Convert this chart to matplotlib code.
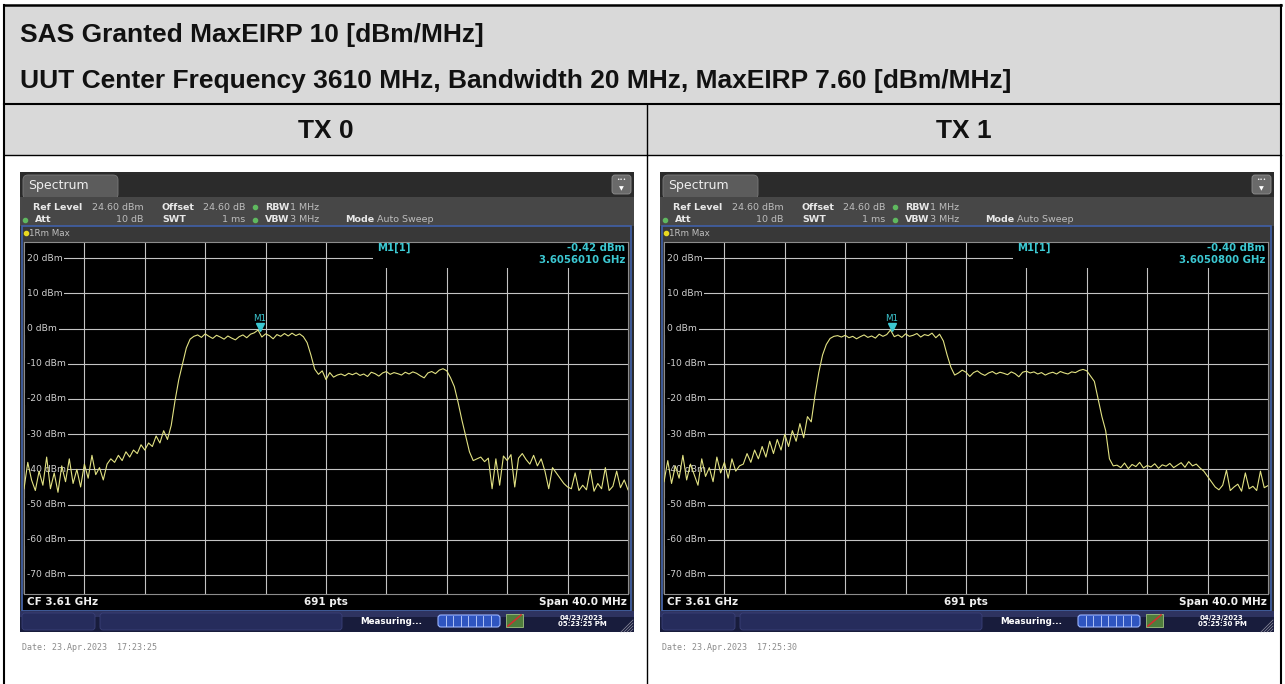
import numpy as np
import matplotlib.pyplot as plt
from matplotlib.patches import Rectangle, FancyBboxPatch
from matplotlib.transforms import blended_transform_factory, offset_copy

W, H = 1285, 684

title_line1 = "SAS Granted MaxEIRP 10 [dBm/MHz]"
title_line2 = "UUT Center Frequency 3610 MHz, Bandwidth 20 MHz, MaxEIRP 7.60 [dBm/MHz]"
tx_names = ["TX 0", "TX 1"]

# analyzer settings (CF 3.61 GHz, span 40 MHz, ref level 24.6 dBm, 10 dB/div)
f_start, f_stop = 3590.0, 3630.0
ref_level = 24.6
level_ticks = [20, 10, 0, -10, -20, -30, -40, -50, -60, -70]
freq_ticks = [3594, 3598, 3602, 3606, 3610, 3614, 3618, 3622, 3626]

# traces, 0.25 MHz steps from 3590 to 3630 MHz
tx0_dbm = [
    -45.5, -38.0, -43.0, -46.0, -40.5, -44.5, -36.5, -45.5, -41.0, -46.5, -39.0,
    -43.5, -37.0, -44.0, -40.0, -45.0, -38.5, -42.5, -36.0, -41.5, -39.5, -43.0,
    -38.5, -37.0, -38.0, -36.0, -37.5, -35.0, -36.5, -34.5, -35.5, -33.0, -34.5,
    -32.5, -33.5, -30.5, -32.5, -29.0, -31.5,
    -27.5, -20.5, -14.5, -10.0, -5.5, -3.0, -2.2,
    -1.8, -2.5, -1.5, -2.2, -2.8, -1.9, -2.4, -3.0, -2.1, -2.7, -3.2, -2.3, -1.8,
    -2.6, -1.6, -1.2, -0.4, -2.4, -1.5, -2.0, -2.9, -1.7, -2.2, -1.4, -2.1, -1.3,
    -2.0, -1.5, -2.3,
    -4.0, -7.5, -11.5, -13.0,
    -12.0, -14.5, -12.5, -13.8, -13.2, -12.9, -13.4, -12.7, -13.1, -12.6, -13.3,
    -12.9, -13.6, -12.4, -12.8, -13.5, -12.6, -12.2, -13.0, -12.5, -12.8, -13.2,
    -12.4, -12.9, -12.3, -12.7, -13.4, -14.0, -12.6, -12.2, -12.8, -11.8, -11.4,
    -12.0, -14.0, -16.5, -21.0, -26.0, -30.5, -35.0, -37.5,
    -37.0, -36.5, -37.8, -36.8, -45.5, -37.0, -44.5, -36.2, -37.5, -35.8, -45.0,
    -36.8, -35.5, -37.2, -38.5, -36.0, -39.0, -37.0, -40.5, -45.5, -39.5,
    -41.0, -42.5, -44.0, -45.0,
    -45.5, -41.0, -46.0, -44.5, -45.8, -40.0, -46.2, -44.0, -45.5, -39.5, -46.0,
    -44.8, -40.5, -45.2, -43.0, -45.8,
]
tx1_dbm = [
    -43.5, -37.5, -44.0, -39.0, -42.5, -36.0, -43.0, -38.5, -41.5, -44.5, -37.0,
    -42.0, -39.5, -43.5, -36.5, -41.0, -38.0, -42.5, -37.0, -40.5, -39.0,
    -38.5, -35.5, -38.0, -34.5, -37.0, -33.5, -36.5, -32.0, -35.5, -31.5, -34.5,
    -30.0, -33.5, -29.0, -32.0, -27.0, -31.0, -25.0,
    -26.5, -19.0, -12.5, -7.5, -4.5, -2.8, -2.2,
    -2.0, -2.4, -1.9, -2.6, -2.2, -2.9, -2.3, -1.8, -2.5, -2.1, -2.7, -1.6, -2.2,
    -1.7, -0.4, -2.3, -1.8, -2.5, -1.5, -2.2, -1.9, -1.4, -2.4, -1.7, -2.0, -1.3,
    -2.6, -1.6,
    -3.5, -7.5, -11.0, -13.2,
    -12.6, -11.8, -12.4, -13.6, -12.5, -12.0, -12.8, -13.3, -12.6, -12.2, -12.9,
    -12.4, -12.7, -13.1, -12.3, -12.8, -13.7, -12.4, -12.1, -12.6, -12.3, -12.9,
    -12.5, -13.2, -12.7, -12.4, -12.9, -12.2, -12.6, -12.9, -12.3, -12.5, -11.9,
    -11.6,
    -12.0, -13.5, -15.0, -20.0, -25.0, -29.0, -37.0, -39.0,
    -38.8, -39.5, -38.2, -39.8, -38.6, -39.2, -38.0, -39.6, -38.9, -39.3, -38.4,
    -39.7, -38.7, -39.1, -38.3, -39.5, -38.8, -38.1, -39.4, -37.8, -39.0, -38.5,
    -39.6,
    -40.5, -42.0, -43.5, -45.0,
    -45.8, -44.5, -40.2, -46.0, -45.0, -44.2, -46.2, -41.0, -45.5, -44.8, -46.0,
    -40.5, -45.2, -44.6,
]

m1_freq = [3605.601, 3605.080]
m1_level = [-0.42, -0.40]
m1_readout = [("-0.42 dBm", "3.6056010 GHz"), ("-0.40 dBm", "3.6050800 GHz")]
screen_stamp = ["04/23/2023\n05:23:25 PM", "04/23/2023\n05:25:30 PM"]
date_lines = ["Date: 23.Apr.2023  17:23:25", "Date: 23.Apr.2023  17:25:30"]

fig = plt.figure(figsize=(W / 100, H / 100), dpi=100)
fig.patch.set_facecolor('white')
bg = fig.add_axes([0, 0, 1, 1])
bg.set_xlim(0, W)
bg.set_ylim(H, 0)
bg.axis('off')


def px_axes(x0, y0, x1, y1):
    return fig.add_axes([x0 / W, 1 - y1 / H, (x1 - x0) / W, (y1 - y0) / H])


# table frame
bg.add_patch(Rectangle((4, 5), 1277, 150, facecolor='#d9d9d9', edgecolor='none'))
bg.plot([4, 1281], [5, 5], color='black', lw=1.8)
bg.plot([4, 4], [5, H], color='black', lw=1.5)
bg.plot([1281, 1281], [5, H], color='black', lw=1.5)
bg.plot([4, 1281], [104, 104], color='black', lw=1.5)
bg.plot([4, 1281], [155, 155], color='black', lw=1.0)
bg.plot([647, 647], [104, H], color='black', lw=1.0)

tfont = dict(family='Liberation Sans', fontweight='bold', color='#111111', va='center')
bg.text(20, 35, title_line1, fontsize=19, **tfont)
bg.text(20, 81, title_line2, fontsize=19, **tfont)
bg.text(325.5, 131, tx_names[0], fontsize=19, ha='center', **tfont)
bg.text(964, 131, tx_names[1], fontsize=19, ha='center', **tfont)

sfont = dict(family='DejaVu Sans', va='center')


def draw_panel(dx, levels, mfreq, mlevel, readout, stamp, date):
    x0 = 20 + dx
    # screenshot chrome
    bg.add_patch(Rectangle((x0, 172), 614, 460, facecolor='#2b2b2b', edgecolor='none'))
    bg.add_patch(FancyBboxPatch((x0 + 3, 175), 95, 24, boxstyle='round,pad=0,rounding_size=5',
                                facecolor='#5c5c5c', edgecolor='#7a7a7a', lw=0.6))
    bg.text(x0 + 8, 186, 'Spectrum', color='#eeeeee', fontsize=9, **sfont)
    bg.add_patch(FancyBboxPatch((x0 + 592, 175), 19, 19, boxstyle='round,pad=0,rounding_size=3',
                                facecolor='#6a6a6a', edgecolor='#909090', lw=0.6))
    bg.text(x0 + 601.5, 180, '•••', color='white', fontsize=4, ha='center', **sfont)
    bg.text(x0 + 601.5, 189, '▼', color='white', fontsize=4.5, ha='center', **sfont)
    bg.add_patch(Rectangle((x0, 197), 614, 29, facecolor='#474747', edgecolor='none'))

    lab = dict(color='#e8e8e8', fontsize=6.8, fontweight='bold', **sfont)
    val = dict(color='#bdbdbd', fontsize=6.8, **sfont)
    bg.text(dx + 33, 207, 'Ref Level', **lab)
    bg.text(dx + 92, 207, '24.60 dBm', **val)
    bg.text(dx + 162, 207, 'Offset', **lab)
    bg.text(dx + 245, 207, '24.60 dB', ha='right', **val)
    bg.text(dx + 265, 207, 'RBW', **lab)
    bg.text(dx + 290, 207, '1 MHz', **val)
    bg.text(dx + 35, 220, 'Att', **lab)
    bg.text(dx + 143, 220, '10 dB', ha='right', **val)
    bg.text(dx + 162, 220, 'SWT', **lab)
    bg.text(dx + 245, 220, '1 ms', ha='right', **val)
    bg.text(dx + 265, 220, 'VBW', **lab)
    bg.text(dx + 290, 220, '3 MHz', **val)
    bg.text(dx + 345, 220, 'Mode', **lab)
    bg.text(dx + 377, 220, 'Auto Sweep', **val)
    bg.scatter([dx + 255, dx + 25, dx + 255], [207, 220, 220], s=9, color='#5fb85f', zorder=3)

    # diagram frame
    bg.add_patch(Rectangle((dx + 22, 226), 609, 385, facecolor='#383838', edgecolor='#4060a8', lw=1.2))
    bg.scatter([dx + 26], [233], s=9, color='#e8d820', zorder=3)
    bg.text(dx + 29, 233, '1Rm Max', color='#bfbfbf', fontsize=6.3, **sfont)
    bg.add_patch(Rectangle((dx + 23, 594), 607, 16, facecolor='black', edgecolor='none'))
    cf = dict(color='#f0f0f0', fontsize=7.5, fontweight='bold', **sfont)
    bg.text(dx + 27, 602, 'CF 3.61 GHz', **cf)
    bg.text(dx + 326, 602, '691 pts', ha='center', **cf)
    bg.text(dx + 627, 602, 'Span 40.0 MHz', ha='right', **cf)

    # status bar
    bg.add_patch(Rectangle((x0, 611), 614, 21, facecolor='#181c3c', edgecolor='none'))
    bg.add_patch(Rectangle((x0, 611), 614, 6, facecolor='#2e3360', edgecolor='none'))
    for bx, bw in [(dx + 22, 73), (dx + 100, 242)]:
        bg.add_patch(FancyBboxPatch((bx, 613), bw, 17, boxstyle='round,pad=0,rounding_size=3',
                                    facecolor='#262c5c', edgecolor='#3a4078', lw=0.6))
    bg.text(dx + 391, 621, 'Measuring...', color='white', fontsize=6.3, fontweight='bold',
            ha='center', **sfont)
    bg.add_patch(FancyBboxPatch((dx + 438, 615), 62, 12, boxstyle='round,pad=0,rounding_size=3',
                                facecolor='#2f55c0', edgecolor='#9ab4ff', lw=0.8))
    for k in range(1, 8):
        bg.plot([dx + 438 + k * 7.5] * 2, [616, 626], color='#c8d6ff', lw=0.6)
    bg.add_patch(Rectangle((dx + 506, 614), 17, 13, facecolor='#4f7d3c', edgecolor='#a0c080', lw=0.6))
    bg.plot([dx + 508, dx + 521], [626, 615], color='#d03030', lw=1.2)
    bg.text(dx + 582, 621, stamp, color='white', fontsize=5, fontweight='bold',
            ha='center', linespacing=1.1, **sfont)
    for k in range(4):
        bg.plot([dx + 621 + k * 3, dx + 633], [632, 620 + k * 3], color='#9090a0', lw=0.5)

    bg.text(dx + 22, 647, date, family='DejaVu Sans Mono', fontsize=6, color='#8a8a8a', va='center')

    # trace diagram
    ax = px_axes(dx + 24, 242, dx + 628, 594)
    ax.set_facecolor('black')
    ax.set_xlim(f_start, f_stop)
    ax.set_ylim(ref_level - 100, ref_level)
    ax.set_xticks([])
    ax.set_yticks([])
    for s in ax.spines.values():
        s.set_color('#8c8c8c')
        s.set_linewidth(0.8)
    for f in freq_ticks:
        ax.axvline(f, color='#c4c4c4', lw=0.8, zorder=1)
    blend = blended_transform_factory(ax.transAxes, ax.transData)
    for lv in level_ticks:
        ax.axhline(lv, color='#c4c4c4', lw=0.8, zorder=1)
        ax.text(0.005, lv, f'{lv} dBm', transform=blend, fontsize=6.6, color='#d0d0d0',
                bbox=dict(facecolor='black', edgecolor='none', pad=1.2), zorder=3, **sfont)
    ax.add_patch(Rectangle((0.578, 0.926), 0.43, 0.08, transform=ax.transAxes,
                           facecolor='black', edgecolor='none', zorder=2))

    freqs = np.linspace(f_start, f_stop, len(levels))
    ax.plot(freqs, levels, color='#e2e283', lw=0.8, zorder=4)

    cyan = '#3cc8d2'
    ax.plot([mfreq], [mlevel], marker='v', ms=5.5, color=cyan, zorder=5,
            transform=offset_copy(ax.transData, fig=fig, y=2.2, units='points'))
    ax.text(mfreq, mlevel, 'M1', color=cyan, fontsize=6.3, ha='center', va='bottom', zorder=5,
            family='DejaVu Sans',
            transform=offset_copy(ax.transData, fig=fig, y=5, units='points'))
    ax.text(0.584, 0.983, 'M1[1]', transform=ax.transAxes, color=cyan, fontsize=7.3,
            fontweight='bold', zorder=5, **sfont)
    ax.text(0.996, 0.983, readout[0], transform=ax.transAxes, color=cyan, fontsize=7.3,
            fontweight='bold', ha='right', zorder=5, **sfont)
    ax.text(0.996, 0.948, readout[1], transform=ax.transAxes, color=cyan, fontsize=7.3,
            fontweight='bold', ha='right', zorder=5, **sfont)


draw_panel(0, tx0_dbm, m1_freq[0], m1_level[0], m1_readout[0], screen_stamp[0], date_lines[0])
draw_panel(640, tx1_dbm, m1_freq[1], m1_level[1], m1_readout[1], screen_stamp[1], date_lines[1])

fig.savefig('out.png', dpi=100, facecolor='white')
